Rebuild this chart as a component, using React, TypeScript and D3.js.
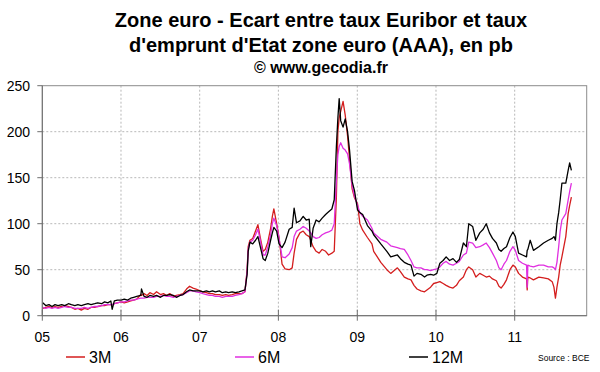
import React from "react";
import * as d3 from "d3";

// spread Euribor vs AAA govt yields (bp), ~2 points a month
const dates = [
  // 2005
  "2005-01-03", "2005-01-17", "2005-02-01", "2005-02-15", "2005-03-01", "2005-03-15", "2005-04-01", "2005-04-15",
  "2005-05-02", "2005-05-16", "2005-06-01", "2005-06-15", "2005-07-01", "2005-07-15", "2005-08-01", "2005-08-15",
  "2005-09-01", "2005-09-15", "2005-10-03", "2005-10-17", "2005-11-01", "2005-11-15", "2005-11-21", "2005-12-01",
  "2005-12-15",
  // 2006
  "2006-01-02", "2006-01-16", "2006-02-01", "2006-02-15", "2006-03-01", "2006-03-15", "2006-04-03", "2006-04-06",
  "2006-04-18", "2006-05-02", "2006-05-15", "2006-06-01", "2006-06-15", "2006-07-03", "2006-07-17", "2006-08-01",
  "2006-08-15", "2006-09-01", "2006-09-15", "2006-10-02", "2006-10-16", "2006-11-01", "2006-11-15", "2006-12-01",
  "2006-12-15",
  // 2007
  "2007-01-02", "2007-01-16", "2007-02-01", "2007-02-15", "2007-03-01", "2007-03-15", "2007-04-02", "2007-04-16",
  "2007-05-02", "2007-05-15", "2007-06-01", "2007-06-15", "2007-07-02", "2007-07-16", "2007-07-30", "2007-08-09",
  "2007-08-14", "2007-08-22", "2007-09-04", "2007-09-17", "2007-09-28", "2007-10-09", "2007-10-22", "2007-11-01",
  "2007-11-13", "2007-11-26", "2007-12-04", "2007-12-11", "2007-12-24",
  // 2008
  "2008-01-04", "2008-01-18", "2008-02-01", "2008-02-20", "2008-03-05", "2008-03-14", "2008-03-25", "2008-04-10",
  "2008-04-25", "2008-05-09", "2008-05-23", "2008-05-30", "2008-06-10", "2008-06-24", "2008-07-08", "2008-07-22",
  "2008-08-07", "2008-08-21", "2008-09-05", "2008-09-16", "2008-09-26", "2008-10-03", "2008-10-09", "2008-10-16",
  "2008-10-27", "2008-11-06", "2008-11-17", "2008-11-26", "2008-12-08", "2008-12-19",
  // 2009
  "2009-01-02", "2009-01-13", "2009-01-26", "2009-02-17", "2009-03-10", "2009-03-18", "2009-04-20", "2009-05-18",
  "2009-06-05", "2009-07-06", "2009-07-20", "2009-08-07", "2009-08-24", "2009-09-07", "2009-09-21", "2009-10-05",
  "2009-10-23", "2009-11-09", "2009-11-20", "2009-12-07", "2009-12-21",
  // 2010
  "2010-01-05", "2010-01-19", "2010-02-03", "2010-02-17", "2010-03-05", "2010-03-21", "2010-04-06", "2010-04-19",
  "2010-05-08", "2010-05-22", "2010-06-02", "2010-06-20", "2010-07-05", "2010-07-23", "2010-08-08", "2010-08-22",
  "2010-09-06", "2010-09-20", "2010-10-08", "2010-10-20", "2010-10-30", "2010-11-12", "2010-11-24", "2010-12-10",
  "2010-12-24",
  // 2011
  "2011-01-04", "2011-01-19", "2011-02-06", "2011-02-25", "2011-02-28", "2011-03-03", "2011-03-14", "2011-03-29",
  "2011-04-23", "2011-05-15", "2011-06-06", "2011-06-24", "2011-07-02", "2011-07-09", "2011-07-16", "2011-07-24",
  "2011-07-31", "2011-08-08", "2011-08-26", "2011-09-06", "2011-09-13", "2011-09-21",
];

const s3M = [
  8, 9, 10, 9, 10, 9, 10, 11, 10, 9, 7, 8, 6, 8, 7, 9, 9, 10, 11, 11, 12, 12, 12, 13, 14,
  15, 14, 15, 16, 17, 18, 23, 22, 24, 22, 25, 23, 26, 23, 24, 22, 24, 21, 22, 23, 24, 29, 32, 30, 29,
  27, 26, 25, 24, 24, 23, 23, 22, 23, 22, 23, 24, 24, 24, 26, 50, 75, 82, 84, 92, 99, 85, 70, 72, 80, 95, 108, 116, 100,
  85, 56, 51, 50, 52, 68, 83, 90, 92, 88, 86, 82, 75, 70, 68, 72, 70, 66, 68, 70, 129, 200, 215, 222, 233, 218, 195, 170, 138, 128,
  122, 100, 93, 85, 78, 70, 58, 50, 46, 52, 48, 42, 40, 39, 33, 29, 27, 26, 28, 31, 35,
  36, 37, 35, 33, 31, 30, 33, 38, 42, 50, 53, 50, 42, 46, 44, 42, 43, 40, 38, 32, 30, 34, 39, 50, 55,
  53, 46, 42, 40, 28, 42, 41, 39, 42, 41, 40, 37, 31, 19, 31, 42, 55, 64, 86, 111, 120, 129,
];

const s6M = [
  9, 8, 9, 8, 9, 8, 9, 10, 9, 9, 8, 8, 8, 9, 8, 9, 10, 10, 11, 12, 12, 12, 12, 13, 14,
  15, 15, 16, 17, 17, 18, 19, 19, 19, 20, 20, 20, 21, 21, 22, 21, 21, 20, 21, 22, 23, 25, 27, 27, 26,
  25, 24, 23, 22, 22, 21, 21, 20, 21, 21, 21, 22, 23, 24, 26, 48, 72, 80, 82, 88, 94, 82, 66, 66, 75, 88, 100, 106, 98,
  84, 64, 63, 67, 74, 86, 92, 94, 97, 95, 92, 90, 86, 84, 85, 88, 90, 91, 93, 100, 147, 175, 184, 188, 182, 180, 176, 165, 142, 130,
  120, 112, 108, 104, 95, 90, 83, 80, 76, 74, 73, 72, 66, 60, 53, 52, 52, 50, 50, 49, 50,
  51, 53, 57, 59, 56, 55, 57, 59, 66, 68, 80, 79, 74, 75, 77, 79, 74, 68, 60, 52, 50, 56, 60, 70, 75,
  71, 60, 57, 55, 31, 55, 54, 53, 55, 55, 53, 53, 52, 50, 58, 75, 92, 104, 111, 126, 135, 144,
];

const s12M = [
  14, 11, 12, 10, 12, 11, 12, 11, 13, 12, 11, 12, 11, 12, 13, 12, 13, 14, 13, 15, 14, 16, 7, 16, 17,
  17, 18, 17, 19, 20, 21, 22, 29, 21, 20, 22, 21, 22, 20, 22, 22, 23, 22, 20, 22, 23, 26, 28, 27, 27,
  27, 26, 27, 26, 27, 26, 27, 25, 26, 25, 26, 25, 26, 27, 28, 45, 70, 80, 78, 82, 86, 75, 62, 60, 68, 82, 90, 96, 92,
  78, 74, 80, 94, 96, 117, 101, 103, 108, 104, 105, 75, 95, 104, 102, 106, 110, 113, 116, 126, 184, 215, 236, 212, 205, 214, 200, 180, 146, 136,
  115, 112, 110, 98, 92, 88, 78, 70, 64, 66, 62, 58, 56, 55, 43, 46, 45, 42, 44, 45, 44,
  46, 57, 60, 64, 60, 62, 58, 61, 79, 75, 100, 97, 82, 90, 94, 100, 90, 84, 79, 72, 70, 73, 75, 85, 91,
  86, 68, 66, 64, 71, 72, 82, 71, 75, 79, 82, 84, 86, 82, 100, 112, 126, 144, 144, 158, 166, 158,
];

const seriesNames = ["3M", "6M", "12M"];
const seriesColors = ["#d41e1e", "#e02fe0", "#000000"];

const yTicks = [0, 50, 100, 150, 200, 250];
const xTickYears = [2005, 2006, 2007, 2008, 2009, 2010, 2011];
const xTickLabels = ["05", "06", "07", "08", "09", "10", "11"];

const titleLines = [
  "Zone euro - Ecart entre taux Euribor et taux",
  "d'emprunt d'Etat zone euro (AAA), en pb",
];
const subtitle = "© www.gecodia.fr";
const source = "Source : BCE";

export default function App() {
  const width = 600;
  const height = 372;
  const left = 42.3, right = 586.7, top = 85.7, bottom = 315.7;
  const font = "'Liberation Sans', Arial, sans-serif";

  const parse = d3.timeParse("%Y-%m-%d");
  const x = d3
    .scaleTime()
    .domain([new Date(2005, 0, 1), new Date(2011, 11, 1)])
    .range([left, right]);
  const y = d3.scaleLinear().domain([0, 250]).range([bottom, top]);

  const parsed = dates.map((d) => parse(d) as Date);
  const allSeries = [s3M, s6M, s12M];

  const line = d3
    .line<number>()
    .x((_, i) => x(parsed[i]))
    .y((v) => y(v));

  const legendX = [66, 235, 409];

  return (
    <svg
      width={width}
      height={height}
      style={{ position: "absolute", left: 0, top: 0, background: "#fff" }}
      fontFamily={font}
    >
      <rect x={0} y={0} width={width} height={height} fill="#fff" />

      {/* title */}
      <g textAnchor="middle" fontWeight="bold" fill="#000">
        <text x={321} y={27} fontSize={20}>{titleLines[0]}</text>
        <text x={321} y={51.5} fontSize={20}>{titleLines[1]}</text>
        <text x={321} y={73} fontSize={16}>{subtitle}</text>
      </g>

      {/* grid */}
      <g stroke="#b8b8b8" strokeWidth={1} strokeDasharray="2,2">
        {yTicks.slice(1, -1).map((t) => (
          <line key={"gy" + t} x1={left} x2={right} y1={y(t)} y2={y(t)} />
        ))}
        {xTickYears.slice(1).map((yr) => {
          const xx = x(new Date(yr, 0, 1));
          return <line key={"gx" + yr} x1={xx} x2={xx} y1={top} y2={bottom} />;
        })}
      </g>

      {/* frame */}
      <rect x={left} y={top} width={right - left} height={bottom - top} fill="none" stroke="#8c8c8c" strokeWidth={1} />

      {/* series */}
      {allSeries.map((s, k) => (
        <path
          key={seriesNames[k]}
          d={line(s) || ""}
          fill="none"
          stroke={seriesColors[k]}
          strokeWidth={1.3}
          strokeLinejoin="round"
        />
      ))}

      {/* y axis */}
      <g stroke="#6e6e6e" strokeWidth={1}>
        <line x1={left} x2={left} y1={top} y2={bottom} />
        <line x1={left} x2={right} y1={bottom} y2={bottom} />
        {yTicks.map((t) => (
          <line key={"ty" + t} x1={left - 5} x2={left} y1={y(t)} y2={y(t)} />
        ))}
        {xTickYears.map((yr) => {
          const xx = x(new Date(yr, 0, 1));
          return <line key={"tx" + yr} x1={xx} x2={xx} y1={bottom - 6} y2={bottom + 5} />;
        })}
      </g>
      <g fontSize={14} fill="#000">
        {yTicks.map((t) => (
          <text key={"ly" + t} x={30} y={y(t)} dy="0.36em" textAnchor="end">{t}</text>
        ))}
        {xTickYears.map((yr, i) => (
          <text key={"lx" + yr} x={x(new Date(yr, 0, 1))} y={341.5} textAnchor="middle">{xTickLabels[i]}</text>
        ))}
      </g>

      {/* legend */}
      {seriesNames.map((n, k) => (
        <g key={"lg" + n}>
          <line x1={legendX[k]} x2={legendX[k] + 19} y1={357} y2={357} stroke={seriesColors[k]} strokeWidth={1.5} />
          <text x={legendX[k] + 23} y={362.5} fontSize={16} fill="#000">{n}</text>
        </g>
      ))}
      <text x={538} y={360.5} fontSize={8.5} fill="#000">{source}</text>
    </svg>
  );
}
